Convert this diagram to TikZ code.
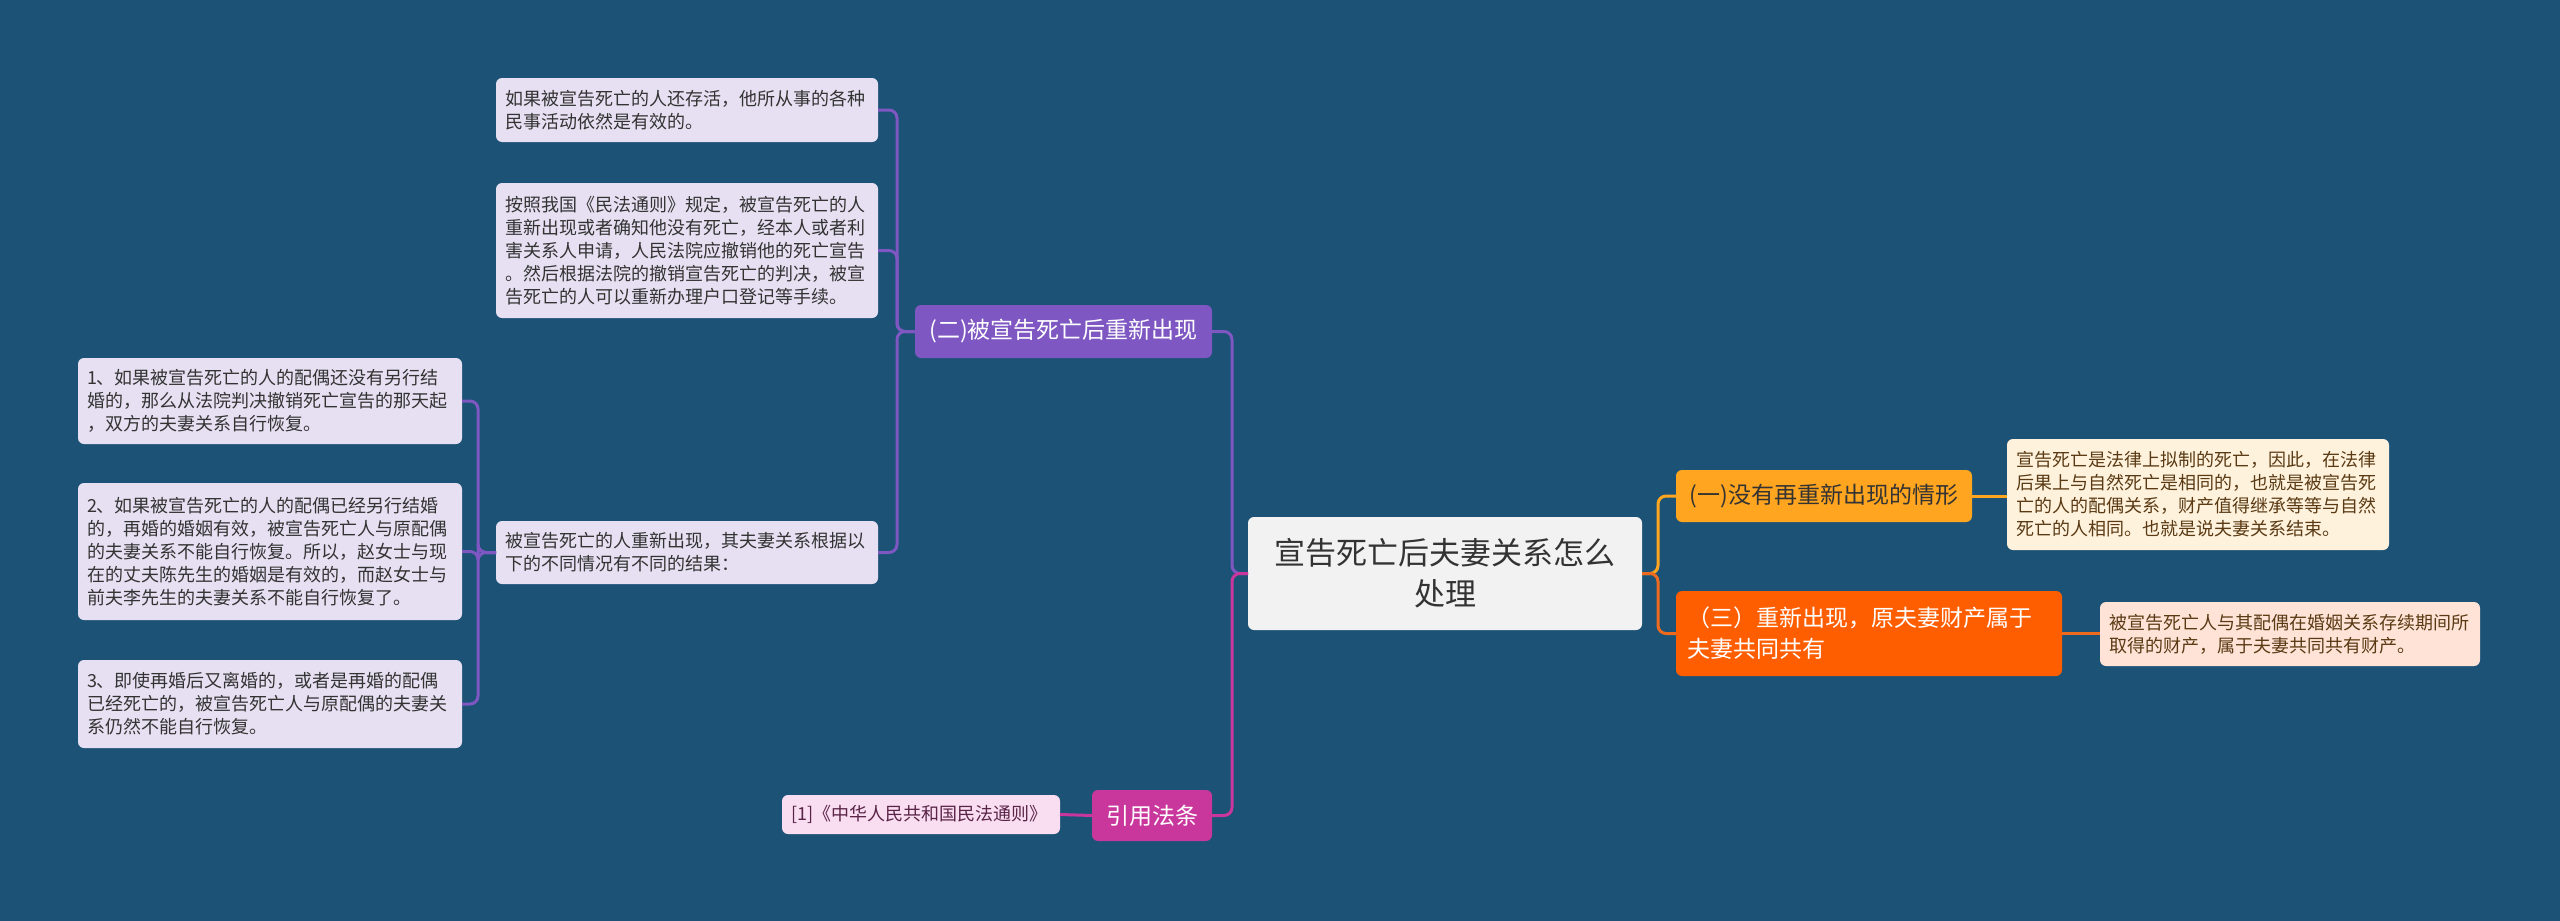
\documentclass[tikz,border=0pt]{standalone}
\usepackage{fontspec}
\setmainfont{Noto Sans CJK SC}
\definecolor{bg}{HTML}{1B5276}
\definecolor{purp}{HTML}{7E57C2}
\definecolor{lav}{HTML}{E6E0F2}
\definecolor{mag}{HTML}{C9379D}
\definecolor{pinkf}{HTML}{F9DDF0}
\definecolor{gold}{HTML}{FFA51F}
\definecolor{cream}{HTML}{FFF2DC}
\definecolor{orng}{HTML}{FF5E00}
\definecolor{orngline}{HTML}{EE6A1E}
\definecolor{peach}{HTML}{FFE3D6}
\definecolor{rootf}{HTML}{F2F2F2}
\definecolor{ink}{HTML}{333333}
\definecolor{brownink}{HTML}{5A3A14}
\definecolor{refink}{HTML}{5A2448}
\begin{document}
\begin{tikzpicture}[x=1pt,y=-1pt,
  base/.style={anchor=north west, rounded corners=6pt, inner ysep=0pt, outer sep=0pt},
  leaf/.style={base, fill=lav, text=ink, inner xsep=9pt, align=left, font=\fontsize{18pt}{23pt}\selectfont},
  branch/.style={base, inner xsep=8pt, align=center, font=\fontsize{23pt}{31pt}\selectfont},
  conn/.style={line width=3pt, rounded corners=8pt},
]
\useasboundingbox (0,0) rectangle (2560,921);
\fill[bg] (0,0) rectangle (2560,921);

% root
\node[base, fill=rootf, text=ink, align=center, minimum width=394pt, minimum height=113pt,
  font=\fontsize{31pt}{41pt}\selectfont] (root) at (1248,517) {宣告死亡后夫妻关系怎么\\处理};

% level 1
\node[branch, fill=purp, text=white, minimum width=297pt, minimum height=53pt] (b2) at (915,305) {(二)被宣告死亡后重新出现};
\node[branch, fill=mag, text=white, minimum width=120pt, minimum height=51pt] (bref) at (1092,790) {引用法条};
\node[branch, fill=gold, text=ink, minimum width=296pt, minimum height=52pt] (b1) at (1676,470) {(一)没有再重新出现的情形};
\node[branch, fill=orng, text=white, align=left, inner xsep=11pt, text width=364pt, minimum width=386pt, minimum height=85pt] (b3) at (1676,591) {（三）重新出现，原夫妻财产属于\\夫妻共同共有};

% purple leaves
\node[leaf, text width=364pt, minimum width=382pt, minimum height=64pt] (c1) at (496,78)
  {如果被宣告死亡的人还存活，他所从事的各种\\民事活动依然是有效的。};
\node[leaf, text width=364pt, minimum width=382pt, minimum height=135pt] (c2) at (496,183)
  {按照我国《民法通则》规定，被宣告死亡的人\\重新出现或者确知他没有死亡，经本人或者利\\害关系人申请，人民法院应撤销他的死亡宣告\\。然后根据法院的撤销宣告死亡的判决，被宣\\告死亡的人可以重新办理户口登记等手续。};
\node[leaf, text width=364pt, minimum width=382pt, minimum height=63pt] (c3) at (496,521)
  {被宣告死亡的人重新出现，其夫妻关系根据以\\下的不同情况有不同的结果：};

\node[leaf, text width=366pt, minimum width=384pt, minimum height=86pt] (g1) at (78,358)
  {1、如果被宣告死亡的人的配偶还没有另行结\\婚的，那么从法院判决撤销死亡宣告的那天起\\，双方的夫妻关系自行恢复。};
\node[leaf, text width=366pt, minimum width=384pt, minimum height=137pt] (g2) at (78,483)
  {2、如果被宣告死亡的人的配偶已经另行结婚\\的，再婚的婚姻有效，被宣告死亡人与原配偶\\的夫妻关系不能自行恢复。所以，赵女士与现\\在的丈夫陈先生的婚姻是有效的，而赵女士与\\前夫李先生的夫妻关系不能自行恢复了。};
\node[leaf, text width=366pt, minimum width=384pt, minimum height=88pt] (g3) at (78,660)
  {3、即使再婚后又离婚的，或者是再婚的配偶\\已经死亡的，被宣告死亡人与原配偶的夫妻关\\系仍然不能自行恢复。};

% right details
\node[leaf, fill=cream, text=brownink, text width=364pt, minimum width=382pt, minimum height=111pt] (d1) at (2007,439)
  {宣告死亡是法律上拟制的死亡，因此，在法律\\后果上与自然死亡是相同的，也就是被宣告死\\亡的人的配偶关系，财产值得继承等等与自然\\死亡的人相同。也就是说夫妻关系结束。};
\node[leaf, fill=peach, text=brownink, text width=362pt, minimum width=380pt, minimum height=64pt] (d3) at (2100,602)
  {被宣告死亡人与其配偶在婚姻关系存续期间所\\取得的财产，属于夫妻共同共有财产。};

% reference
\node[leaf, fill=pinkf, text=refink, text width=260pt, minimum width=278pt, minimum height=39pt] (ref) at (782,795)
  {[1]《中华人民共和国民法通则》};

% connectors
\draw[conn, draw=purp] (root.west) -- ++(-16,0) |- (b2.east);
\draw[conn, draw=mag] (root.west) -- ++(-16,0) |- (bref.east);
\draw[conn, draw=mag] (bref.west) -- (ref.east);

\draw[conn, draw=purp] (b2.west) -- ++(-18,0) |- (c1.east);
\draw[conn, draw=purp] (b2.west) -- ++(-18,0) |- (c2.east);
\draw[conn, draw=purp] (b2.west) -- ++(-18,0) |- (c3.east);

\draw[conn, draw=purp] (c3.west) -- ++(-18,0) |- (g1.east);
\draw[conn, draw=purp] (c3.west) -- ++(-18,0) |- (g2.east);
\draw[conn, draw=purp] (c3.west) -- ++(-18,0) |- (g3.east);

\draw[conn, draw=gold] (root.east) -- ++(16,0) |- (b1.east -| b1.west);
\draw[conn, draw=orngline] (root.east) -- ++(16,0) |- (b3.west);
\draw[conn, draw=gold] (b1.east) -- (b1.east -| d1.west);
\draw[conn, draw=orngline] (b3.east) -- (b3.east -| d3.west);
\end{tikzpicture}
\end{document}
